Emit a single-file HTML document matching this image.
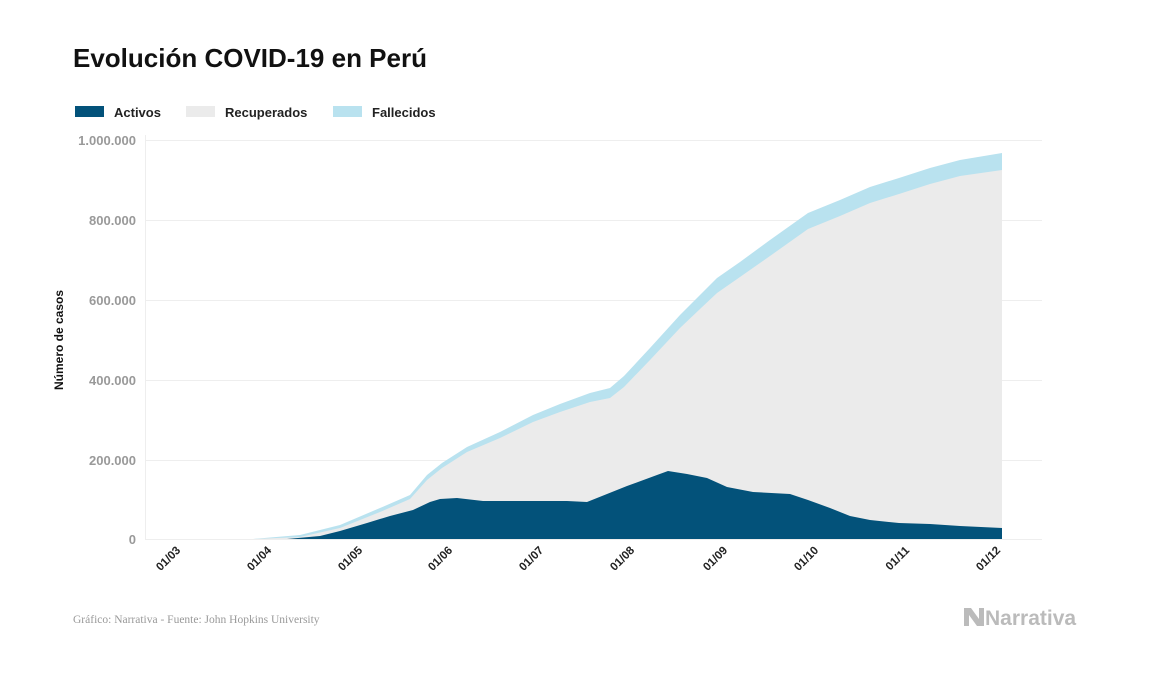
<!DOCTYPE html>
<html><head><meta charset="utf-8"><style>
body{margin:0;background:#fff;width:1157px;height:674px;overflow:hidden;font-family:"Liberation Sans",sans-serif}
</style></head><body>
<svg width="1157" height="674" xmlns="http://www.w3.org/2000/svg" font-family="Liberation Sans, sans-serif">
<text x="73" y="67" font-size="26" font-weight="bold" fill="#111">Evolución COVID-19 en Perú</text>
<rect x="75" y="106" width="29" height="11" fill="#03527a"/><text x="114" y="117" font-size="13" font-weight="bold" fill="#222">Activos</text>
<rect x="186" y="106" width="29" height="11" fill="#ebebeb"/><text x="225" y="117" font-size="13" font-weight="bold" fill="#222">Recuperados</text>
<rect x="333" y="106" width="29" height="11" fill="#b9e2ef"/><text x="372" y="117" font-size="13" font-weight="bold" fill="#222">Fallecidos</text>
<g stroke="#eee" stroke-width="1">
<line x1="145" y1="140.5" x2="1042" y2="140.5"/><line x1="145" y1="220.5" x2="1042" y2="220.5"/><line x1="145" y1="300.5" x2="1042" y2="300.5"/><line x1="145" y1="380.5" x2="1042" y2="380.5"/><line x1="145" y1="460.5" x2="1042" y2="460.5"/><line x1="145" y1="539.5" x2="1042" y2="539.5"/>
<line x1="145.5" y1="135" x2="145.5" y2="540"/></g>
<g font-size="13" font-weight="bold" fill="#999" text-anchor="end">
<text x="136" y="145">1.000.000</text><text x="136" y="225">800.000</text><text x="136" y="305">600.000</text><text x="136" y="385">400.000</text><text x="136" y="465">200.000</text><text x="136" y="544">0</text></g>
<text transform="translate(63,340) rotate(-90)" font-size="12" font-weight="bold" fill="#111" text-anchor="middle">Número de casos</text>
<polygon fill="#b9e2ef" points="253,539 300,535 340,525 380,508 410,495 427,475 442,463 467,447 500,432 533,415 560,404 590,393 610,388 624,376 650,348 680,315 700,295 717,278 740,262 770,240 808,213 840,200 870,187 899,178 930,168 960,160 1002,153 1002,539"/>
<polygon fill="#ebebeb" points="253,539 300,537 340,528 380,512 410,499 427,480 442,468 467,452 500,438 533,422 560,412 590,402 610,398 624,387 650,360 680,328 700,309 717,293 740,277 770,256 808,229 840,216 870,203 899,194 930,184 960,176 1002,170 1002,539"/>
<polygon fill="#03527a" points="287,539 320,536 340,531 367,523 390,516 413,510 430,502 440,499 457,498 483,501 527,501 567,501 587,502 607,494 627,486 657,475 668,471 687,474 707,478 727,487 753,492 790,494 808,500 830,508 850,516 870,520 899,523 930,524 960,526 1002,528 1002,539"/>
<g font-size="11.5" font-weight="bold" fill="#222" text-anchor="end">
<text transform="translate(181,551) rotate(-45)">01/03</text>
<text transform="translate(272,551) rotate(-45)">01/04</text>
<text transform="translate(363,551) rotate(-45)">01/05</text>
<text transform="translate(453,551) rotate(-45)">01/06</text>
<text transform="translate(544,551) rotate(-45)">01/07</text>
<text transform="translate(635,551) rotate(-45)">01/08</text>
<text transform="translate(728,551) rotate(-45)">01/09</text>
<text transform="translate(819,551) rotate(-45)">01/10</text>
<text transform="translate(910,551) rotate(-45)">01/11</text>
<text transform="translate(1001,551) rotate(-45)">01/12</text></g>
<text x="73" y="623" font-size="11.5" fill="#999" font-family="Liberation Serif, serif">Gráfico: Narrativa - Fuente: John Hopkins University</text>
<polygon points="964,608 971,608 979,619 979,608 984,608 984,626 977,626 969,615 969,626 964,626" fill="#bbb"/>
<text x="985" y="625" font-size="21" font-weight="bold" fill="#bbb">Narrativa</text>
</svg>
</body></html>
